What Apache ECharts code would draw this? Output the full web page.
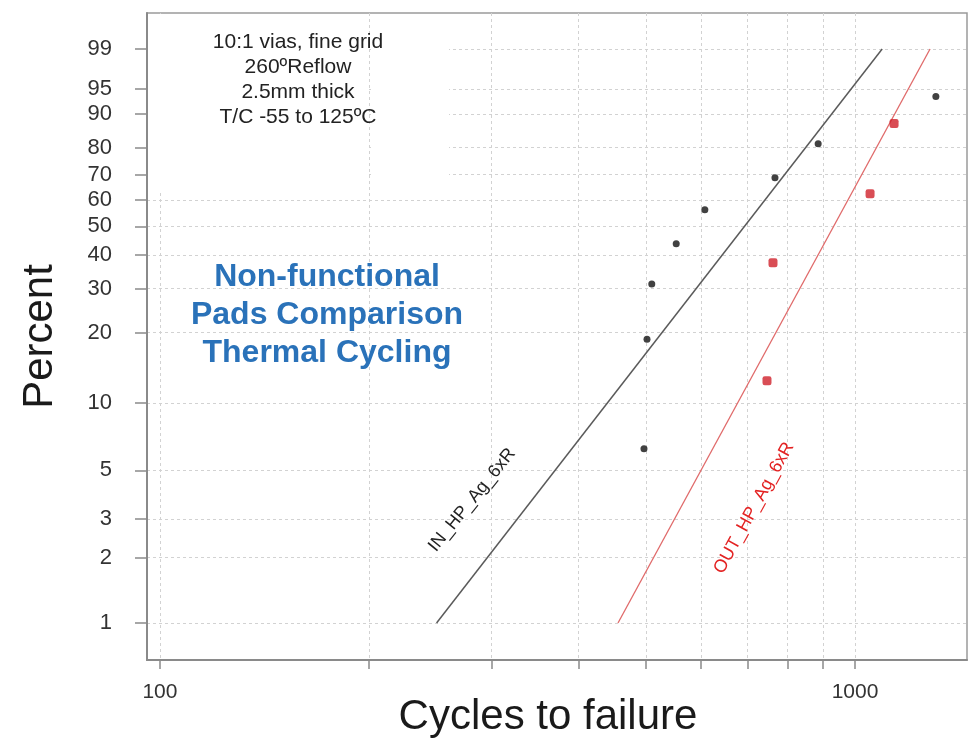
<!DOCTYPE html>
<html>
<head>
<meta charset="utf-8">
<script src="https://cdn.jsdelivr.net/npm/echarts@6/dist/echarts.min.js"></script>
<style>
  html, body { margin: 0; padding: 0; background: #fff; }
  #chart { width: 973px; height: 745px; }
</style>
</head>
<body>
<div id="chart"></div>
<script>
// failures: cycles and plotted percent, per group
const inCycles = [497, 502, 510, 553, 608, 767, 885, 1307];
const inPercent = [6.25, 18.75, 31.25, 43.75, 56.25, 68.75, 81.25, 93.75];
const outCycles = [747, 762, 1051, 1138];
const outPercent = [12.5, 37.5, 62.5, 87.5];
// fitted lines, end points [cycles, percent]
const inFit = [[250, 1], [1094, 99]];
const outFit = [[456, 1], [1282, 99]];
// axes
const percentTicks = [1, 2, 3, 5, 10, 20, 30, 40, 50, 60, 70, 80, 90, 95, 99];
const cycleTicks = [100, 200, 300, 400, 500, 600, 700, 800, 900, 1000];
const cycleLabels = [100, 1000];
const cycleRange = [95.8, 1449];
const percentRange = [0.675, 99.884];

const FONT = 'Liberation Sans, Arial, sans-serif';

// weibull probability paper: x = log10(cycles), y = ln(-ln(1-p))
const lx = (c) => Math.log10(c);
const wy = (p) => Math.log(-Math.log(1 - p / 100));
const pt = (c, p) => [lx(c), wy(p)];

let myChart = echarts.init(document.getElementById('chart'));

const option = {
  animation: false,
  grid: {
    left: 147,
    right: 6,
    top: 13,
    bottom: 85,
    containLabel: false,
    outerBoundsMode: 'none',
    show: true,
    borderColor: '#9a9a9a',
    borderWidth: 1.5
  },
  xAxis: {
    type: 'value',
    min: lx(cycleRange[0]),
    max: lx(cycleRange[1]),
    name: 'Cycles to failure',
    nameLocation: 'middle',
    nameGap: 36,
    nameMoveOverlap: false,
    nameTextStyle: {
      fontFamily: FONT,
      fontSize: 42,
      color: '#1a1a1a',
      padding: [0, 18, 0, 0]
    },
    axisLine: { show: true, onZero: false, lineStyle: { color: '#8a8a8a', width: 2 } },
    axisTick: {
      show: true,
      length: 9,
      customValues: cycleTicks.map(lx),
      lineStyle: { color: '#8a8a8a', width: 1.5 }
    },
    axisLabel: {
      customValues: cycleLabels.map(lx),
      formatter: (v) => String(Math.round(Math.pow(10, v))),
      margin: 22,
      fontFamily: FONT,
      fontSize: 21,
      color: '#333'
    },
    splitLine: {
      show: true,
      lineStyle: { color: '#d2d2d2', width: 1, type: [3, 3] }
    }
  },
  yAxis: {
    type: 'value',
    min: wy(percentRange[0]),
    max: wy(percentRange[1]),
    name: 'Percent',
    nameLocation: 'middle',
    nameRotate: 90,
    nameGap: 86,
    nameMoveOverlap: false,
    nameTextStyle: {
      fontFamily: FONT,
      fontSize: 42,
      color: '#1a1a1a'
    },
    axisLine: { show: true, onZero: false, lineStyle: { color: '#8a8a8a', width: 2 } },
    axisTick: {
      show: true,
      length: 12,
      customValues: percentTicks.map(wy),
      lineStyle: { color: '#8a8a8a', width: 1.5 }
    },
    axisLabel: {
      customValues: percentTicks.map(wy),
      formatter: (v) => String(Math.round(100 * (1 - Math.exp(-Math.exp(v))))),
      margin: 35,
      fontFamily: FONT,
      fontSize: 22,
      color: '#333'
    },
    splitLine: {
      show: true,
      lineStyle: { color: '#d2d2d2', width: 1, type: [3, 3] }
    }
  },
  series: [
    {
      name: 'IN_HP_Ag_6xR fit',
      type: 'line',
      data: inFit.map((d) => pt(d[0], d[1])),
      symbol: 'none',
      lineStyle: { color: '#5a5a5a', width: 1.5 },
      z: 3
    },
    {
      name: 'OUT_HP_Ag_6xR fit',
      type: 'line',
      data: outFit.map((d) => pt(d[0], d[1])),
      symbol: 'none',
      lineStyle: { color: '#e06a6a', width: 1.3 },
      z: 3
    },
    {
      name: 'IN_HP_Ag_6xR',
      type: 'scatter',
      data: inCycles.map((c, i) => pt(c, inPercent[i])),
      symbol: 'circle',
      symbolSize: 7,
      itemStyle: { color: '#111' },
      z: 4
    },
    {
      name: 'OUT_HP_Ag_6xR',
      type: 'scatter',
      data: outCycles.map((c, i) => pt(c, outPercent[i])),
      symbol: 'roundRect',
      symbolSize: 9,
      itemStyle: { color: '#d0202a' },
      z: 4
    }
  ],
  graphic: [
    // white box behind the test conditions note
    { type: 'rect', z: 10, silent: true, shape: { x: 148, y: 14, width: 218, height: 176 }, style: { fill: '#fff' } },
    { type: 'rect', z: 10, silent: true, shape: { x: 371, y: 14, width: 78, height: 176 }, style: { fill: '#fff' } },
    {
      type: 'text', z: 11, x: 298, y: 80,
      style: {
        text: '10:1 vias, fine grid\n260ºReflow\n2.5mm thick\nT/C -55 to 125ºC',
        fontFamily: FONT, fontSize: 21, lineHeight: 25,
        fill: '#222', align: 'center', verticalAlign: 'middle'
      }
    },
    {
      type: 'text', z: 11, x: 327, y: 315,
      style: {
        text: 'Non-functional\nPads Comparison\nThermal Cycling',
        fontFamily: FONT, fontSize: 32, fontWeight: 'bold', lineHeight: 38,
        fill: '#2a72b9', align: 'center', verticalAlign: 'middle'
      }
    },
    {
      type: 'text', z: 11, x: 472, y: 500, rotation: 51 * Math.PI / 180,
      style: {
        text: 'IN_HP_Ag_6xR',
        fontFamily: FONT, fontSize: 18,
        fill: '#222', align: 'center', verticalAlign: 'middle'
      }
    },
    {
      type: 'text', z: 11, x: 754, y: 508, rotation: 61 * Math.PI / 180,
      style: {
        text: 'OUT_HP_Ag_6xR',
        fontFamily: FONT, fontSize: 18,
        fill: '#e32222', align: 'center', verticalAlign: 'middle'
      }
    }
  ]
};

myChart.setOption(option, true);
</script>
</body>
</html>
